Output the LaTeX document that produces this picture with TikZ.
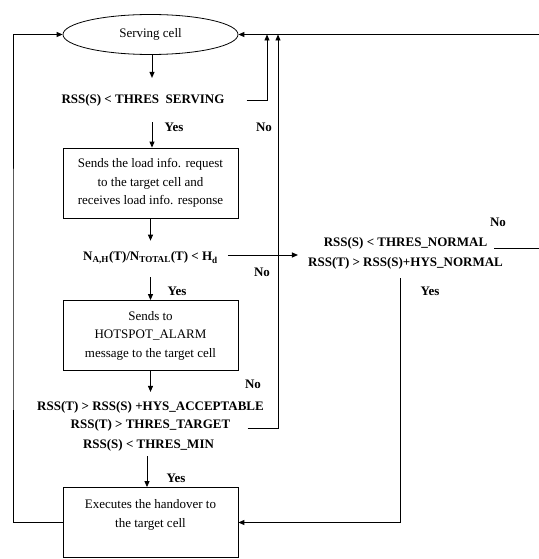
\documentclass[tikz,border=0pt]{standalone}
\usepackage{fontspec}
\setmainfont{Liberation Serif}
\usetikzlibrary{shapes.geometric,arrows.meta,positioning}
\newcommand\boxfont{\fontsize{13}{18.5}\selectfont}
\newcommand\condfont{\fontsize{13}{19}\selectfont\bfseries}
\tikzset{
  %% serving cell oval
  cellnode/.style={ellipse,draw,line width=0.8pt,minimum width=175pt,
    minimum height=40pt,inner sep=0pt,font=\boxfont},
  %% process box
  procbox/.style={rectangle,draw,line width=0.8pt,minimum width=175pt,
    minimum height=70pt,align=center,font=\boxfont,inner sep=3pt},
  %% decision text (no frame)
  cond/.style={font=\condfont,align=center,inner sep=2pt},
  %% arrows
  arr/.style={-{Triangle[length=6pt,width=5pt]},line width=0.9pt},
  lbl/.style={font=\condfont,inner sep=0pt},
}

\begin{document}
\begin{tikzpicture}[x=1pt,y=-1pt,on grid]
  \useasboundingbox (0,0) rectangle (538,559);

  %% main column (top to bottom)
  \node[cellnode] (serving) at (150.5,34.5) {Serving cell};
  \node[cond,below=65.5pt of serving,xshift=-7.5pt] (servchk) {RSS(S) < THRES\ \ SERVING};
  \node[procbox,below=83pt of servchk,xshift=7.5pt] (loadreq)
    {Sends the load info. request\\to the target cell and\\receives load info. response};
  \node[cond,below=75pt of loadreq] (loadchk)
    {N\textsubscript{A,H}(T)/N\textsubscript{TOTAL}(T) < H\textsubscript{d}};
  \node[procbox,below=77.5pt of loadchk] (alarm)
    {Sends to\\HOTSPOT\_ALARM\\message to the target cell};
  \node[cond,below=71.5pt of alarm] (accchk) {RSS(T) > RSS(S) +HYS\_ACCEPTABLE};
  \node[cond,below=18.5pt of accchk] (tgtchk) {RSS(T) > THRES\_TARGET};
  \node[cond,below=19.5pt of tgtchk,xshift=-2pt] (minchk) {RSS(S) < THRES\_MIN};
  \node[procbox,below=77.5pt of minchk,xshift=2pt] (handover)
    {Executes the handover to\\the target cell\\~};

  %% right column
  \node[cond,right=255pt of loadchk,yshift=15pt] (norms) {RSS(S) < THRES\_NORMAL};
  \node[cond,below=20pt of norms] (normt) {RSS(T) > RSS(S)+HYS\_NORMAL};

  %% free corners (right one runs off the page edge)
  \coordinate (lft) at (13,300);
  \coordinate (rgt) at (539.5,150);
  \coordinate (up1) at (267,70);
  \coordinate (up2) at (278,70);
  \coordinate (ax1) at (152,0);
  \coordinate (ax2) at (147,0);

  %% yes path
  \draw[arr,shorten >=14pt] (serving.south -| ax1) -- (servchk.north -| ax1);
  \draw[arr,shorten <=14pt] (servchk.south -| ax1) -- (loadreq.north -| ax1);
  \draw[arr,shorten >=9pt] (loadreq.south) -- (loadchk.north);
  \draw[arr,shorten <=11pt] (loadchk.south) -- (alarm.north);
  \draw[arr,shorten >=7pt] (alarm.south) -- (accchk.north);
  \draw[arr,shorten <=3pt] (minchk.south -| ax2) -- (handover.north -| ax2);

  %% no paths back to serving cell
  \draw[arr,shorten <=20pt] (servchk.east) -| (serving.east -| up1);
  \draw[arr,shorten <=15pt] ([yshift=-3pt]tgtchk.east) -| (serving.east -| up2);
  \draw[arr,shorten <=5pt] ([yshift=-5pt]norms.east) -| (rgt) |- (serving.east);

  %% load check to normal check
  \draw[arr,shorten <=8pt,shorten >=8pt] ([yshift=3pt]loadchk.east) -- ([yshift=3pt]loadchk.east -| normt.west);

  %% handover paths
  \draw[arr,shorten <=7pt] ([xshift=-5pt]normt.south) |- (handover.east);
  \draw[arr] (handover.west) -| (lft) |- (serving.west);

  %% yes / no labels
  \node[lbl] (y1) at (174,127) {Yes};
  \node[lbl] (n1) at (264,127) {No};
  \node[lbl] (n2) at (498,222) {No};
  \node[lbl] (n3) at (262,272) {No};
  \node[lbl] (y2) at (177,291) {Yes};
  \node[lbl] (y3) at (430,291) {Yes};
  \node[lbl] (n4) at (253,384) {No};
  \node[lbl] (y4) at (176,478) {Yes};

\end{tikzpicture}
\end{document}
